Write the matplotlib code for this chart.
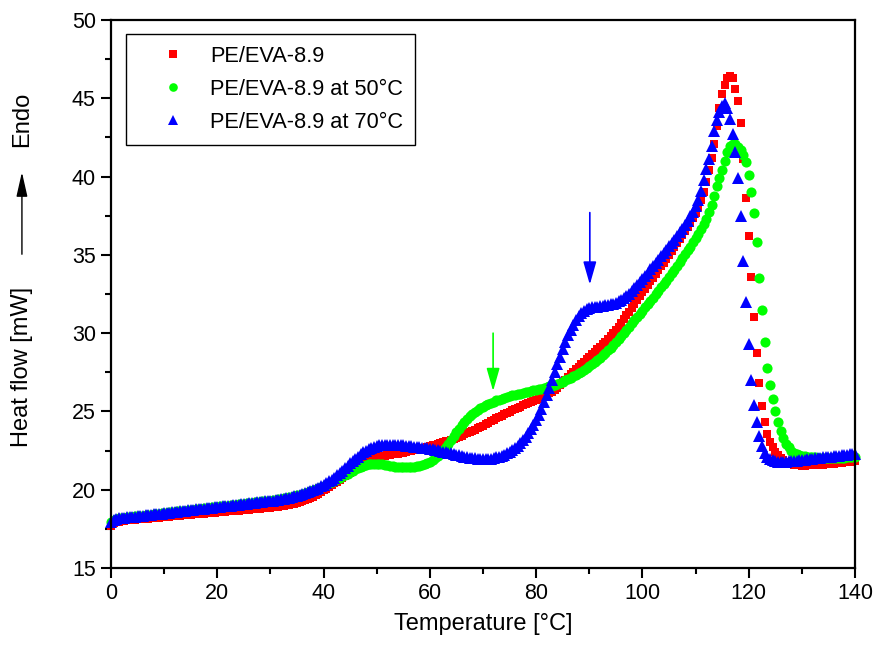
import numpy as np
import matplotlib
matplotlib.use("Agg")
import matplotlib.pyplot as plt

plt.rcParams['font.family'] = ['Liberation Sans', 'DejaVu Sans']

# Temperature grid (0.5 °C sampling)
temperature = np.arange(0, 140.5, 0.5)

pe_eva = [
    17.70, 17.85, 17.92, 17.96, 18.00, 18.02, 18.04, 18.06, 18.08, 18.09,
    18.10, 18.12, 18.13, 18.15, 18.16, 18.18, 18.19, 18.21, 18.22, 18.24,
    18.25, 18.27, 18.28, 18.30, 18.31, 18.33, 18.34, 18.36, 18.37, 18.39,
    18.40, 18.42, 18.43, 18.45, 18.46, 18.48, 18.49, 18.51, 18.52, 18.54,
    18.55, 18.57, 18.58, 18.60, 18.61, 18.63, 18.64, 18.66, 18.67, 18.69,
    18.70, 18.72, 18.73, 18.75, 18.76, 18.78, 18.79, 18.81, 18.82, 18.84,
    18.85, 18.87, 18.90, 18.92, 18.95, 18.97, 19.00, 19.03, 19.06, 19.10,
    19.15, 19.20, 19.26, 19.32, 19.39, 19.47, 19.56, 19.65, 19.75, 19.85,
    19.95, 20.05, 20.16, 20.28, 20.40, 20.52, 20.64, 20.76, 20.88, 20.98,
    21.07, 21.19, 21.32, 21.46, 21.60, 21.72, 21.83, 21.92, 21.98, 22.03,
    22.07, 22.10, 22.13, 22.16, 22.19, 22.22, 22.25, 22.28, 22.30, 22.33,
    22.37, 22.41, 22.45, 22.49, 22.53, 22.57, 22.61, 22.65, 22.69, 22.74,
    22.78, 22.83, 22.88, 22.93, 22.98, 23.03, 23.08, 23.13, 23.18, 23.25,
    23.33, 23.39, 23.46, 23.53, 23.60, 23.68, 23.76, 23.84, 23.93, 24.01,
    24.10, 24.19, 24.28, 24.37, 24.46, 24.55, 24.64, 24.73, 24.82, 24.90,
    24.98, 25.06, 25.14, 25.22, 25.30, 25.38, 25.46, 25.54, 25.61, 25.68,
    25.75, 25.82, 25.90, 25.98, 26.07, 26.16, 26.26, 26.37, 26.48, 26.66,
    26.85, 27.03, 27.22, 27.38, 27.54, 27.70, 27.86, 28.02, 28.18, 28.34,
    28.50, 28.65, 28.80, 28.96, 29.12, 29.29, 29.46, 29.64, 29.82, 30.00,
    30.20, 30.42, 30.65, 30.88, 31.15, 31.38, 31.62, 31.86, 32.10, 32.35,
    32.60, 32.84, 33.08, 33.32, 33.55, 33.79, 34.03, 34.27, 34.50, 34.74,
    34.98, 35.22, 35.50, 35.75, 36.00, 36.25, 36.50, 36.77, 37.05, 37.33,
    37.65, 38.05, 38.50, 39.00, 39.65, 40.40, 41.20, 42.05, 43.20, 44.40,
    45.25, 45.85, 46.30, 46.45, 46.30, 45.60, 44.80, 43.40, 41.10, 38.60,
    36.20, 33.60, 31.00, 28.75, 26.80, 25.35, 24.35, 23.55, 23.05, 22.70,
    22.42, 22.20, 22.02, 21.88, 21.77, 21.69, 21.63, 21.59, 21.56, 21.55,
    21.54, 21.54, 21.55, 21.56, 21.57, 21.58, 21.59, 21.60, 21.61, 21.62,
    21.63, 21.65, 21.67, 21.69, 21.71, 21.73, 21.75, 21.77, 21.79, 21.81,
    21.83,
]

pe_eva_50 = [
    17.95, 18.08, 18.14, 18.17, 18.20, 18.22, 18.24, 18.26, 18.28, 18.29,
    18.31, 18.33, 18.35, 18.37, 18.39, 18.41, 18.43, 18.45, 18.47, 18.49,
    18.51, 18.53, 18.55, 18.57, 18.59, 18.61, 18.63, 18.65, 18.67, 18.69,
    18.71, 18.73, 18.75, 18.77, 18.79, 18.81, 18.83, 18.85, 18.87, 18.89,
    18.91, 18.93, 18.95, 18.97, 18.99, 19.01, 19.03, 19.05, 19.07, 19.09,
    19.11, 19.13, 19.15, 19.17, 19.19, 19.21, 19.23, 19.25, 19.27, 19.29,
    19.31, 19.33, 19.36, 19.39, 19.42, 19.45, 19.48, 19.52, 19.56, 19.60,
    19.64, 19.68, 19.73, 19.78, 19.84, 19.90, 19.96, 20.03, 20.10, 20.17,
    20.24, 20.32, 20.40, 20.49, 20.58, 20.67, 20.76, 20.85, 20.94, 21.03,
    21.12, 21.21, 21.30, 21.39, 21.47, 21.54, 21.59, 21.63, 21.65, 21.66,
    21.66, 21.64, 21.62, 21.59, 21.56, 21.53, 21.50, 21.48, 21.46, 21.45,
    21.44, 21.44, 21.44, 21.45, 21.47, 21.50, 21.54, 21.59, 21.65, 21.72,
    21.80, 21.90, 22.02, 22.16, 22.33, 22.52, 22.73, 22.95, 23.18, 23.42,
    23.66, 23.90, 24.13, 24.34, 24.53, 24.70, 24.85, 24.98, 25.10, 25.21,
    25.31, 25.40, 25.48, 25.56, 25.63, 25.70, 25.76, 25.82, 25.87, 25.92,
    25.97, 26.02, 26.06, 26.10, 26.14, 26.18, 26.22, 26.26, 26.30, 26.34,
    26.38, 26.42, 26.46, 26.50, 26.55, 26.60, 26.65, 26.71, 26.77, 26.84,
    26.91, 26.99, 27.07, 27.15, 27.24, 27.33, 27.43, 27.53, 27.64, 27.76,
    27.88, 28.01, 28.14, 28.28, 28.43, 28.58, 28.74, 28.91, 29.08, 29.26,
    29.44, 29.63, 29.82, 30.02, 30.22, 30.42, 30.62, 30.82, 31.02, 31.22,
    31.43, 31.64, 31.85, 32.06, 32.27, 32.48, 32.70, 32.92, 33.14, 33.36,
    33.60, 33.83, 34.06, 34.30, 34.54, 34.78, 35.03, 35.28, 35.53, 35.80,
    36.10, 36.35, 36.62, 36.95, 37.30, 37.72, 38.20, 38.75, 39.40, 39.90,
    40.45, 41.00, 41.60, 41.95, 42.10, 42.05, 41.90, 41.70, 41.40, 40.90,
    40.10, 39.00, 37.70, 35.80, 33.50, 31.50, 29.45, 27.80, 26.70, 25.80,
    25.00, 24.35, 23.78, 23.30, 22.95, 22.70, 22.50, 22.36, 22.28, 22.22,
    22.18, 22.15, 22.12, 22.10, 22.08, 22.06, 22.05, 22.04, 22.03, 22.02,
    22.02, 22.02, 22.02, 22.03, 22.03, 22.04, 22.05, 22.06, 22.07, 22.08,
    22.10,
]

pe_eva_70 = [
    17.95, 18.08, 18.14, 18.17, 18.19, 18.21, 18.23, 18.25, 18.27, 18.28,
    18.30, 18.32, 18.34, 18.36, 18.38, 18.40, 18.42, 18.44, 18.46, 18.48,
    18.50, 18.52, 18.54, 18.56, 18.58, 18.60, 18.62, 18.64, 18.66, 18.68,
    18.70, 18.72, 18.74, 18.76, 18.78, 18.80, 18.82, 18.84, 18.86, 18.88,
    18.89, 18.91, 18.93, 18.95, 18.97, 18.99, 19.01, 19.03, 19.05, 19.07,
    19.09, 19.11, 19.13, 19.15, 19.17, 19.19, 19.21, 19.23, 19.25, 19.27,
    19.29, 19.31, 19.34, 19.37, 19.40, 19.43, 19.46, 19.50, 19.54, 19.58,
    19.62, 19.67, 19.72, 19.78, 19.84, 19.91, 19.98, 20.06, 20.14, 20.23,
    20.32, 20.42, 20.53, 20.65, 20.78, 20.92, 21.07, 21.22, 21.38, 21.53,
    21.68, 21.83, 21.98, 22.12, 22.26, 22.39, 22.50, 22.60, 22.68, 22.75,
    22.80, 22.83, 22.85, 22.86, 22.87, 22.87, 22.87, 22.86, 22.85, 22.84,
    22.83, 22.81, 22.79, 22.77, 22.75, 22.73, 22.71, 22.69, 22.67, 22.65,
    22.62, 22.59, 22.56, 22.52, 22.48, 22.44, 22.40, 22.36, 22.32, 22.28,
    22.24, 22.20, 22.16, 22.12, 22.08, 22.05, 22.02, 22.00, 21.98, 21.97,
    21.96, 21.96, 21.97, 21.99, 22.02, 22.06, 22.11, 22.17, 22.24, 22.32,
    22.42, 22.53, 22.66, 22.81, 22.98, 23.17, 23.38, 23.61, 23.86, 24.14,
    24.45, 24.80, 25.18, 25.60, 26.05, 26.52, 27.00, 27.50, 28.00, 28.50,
    28.98, 29.43, 29.85, 30.22, 30.55, 30.84, 31.08, 31.27, 31.42, 31.52,
    31.60, 31.65, 31.68, 31.70, 31.72, 31.74, 31.77, 31.80, 31.84, 31.89,
    31.95, 32.03, 32.12, 32.23, 32.36, 32.51, 32.68, 32.86, 33.05, 33.25,
    33.45, 33.65, 33.86, 34.07, 34.28, 34.49, 34.70, 34.91, 35.12, 35.33,
    35.54, 35.76, 35.98, 36.20, 36.43, 36.67, 36.92, 37.18, 37.46, 37.76,
    38.10, 38.50, 39.10, 39.80, 40.50, 41.10, 41.95, 42.90, 43.60, 44.10,
    44.50, 44.70, 44.40, 43.70, 42.70, 41.60, 39.90, 37.50, 34.60, 32.00,
    29.30, 27.00, 25.40, 24.30, 23.45, 22.80, 22.35, 22.10, 21.95, 21.87,
    21.82, 21.80, 21.79, 21.79, 21.80, 21.81, 21.82, 21.84, 21.86, 21.88,
    21.90, 21.92, 21.94, 21.96, 21.98, 22.00, 22.02, 22.04, 22.06, 22.08,
    22.10, 22.12, 22.14, 22.16, 22.18, 22.20, 22.22, 22.24, 22.26, 22.28,
    22.30,
]

series_labels = ["PE/EVA-8.9", "PE/EVA-8.9 at 50\u00b0C", "PE/EVA-8.9 at 70\u00b0C"]
x_ticks = [0, 20, 40, 60, 80, 100, 120, 140]
y_ticks = [15, 20, 25, 30, 35, 40, 45, 50]

fig = plt.figure(figsize=(8.77, 6.54), dpi=100)
ax = fig.add_axes([0.1266, 0.1315, 0.8483, 0.8379])

ax.plot(temperature, pe_eva, linestyle='none', marker='s', color='#ff0000',
        markersize=6.3, markeredgewidth=0, label=series_labels[0], clip_on=False)
ax.plot(temperature, pe_eva_50, linestyle='none', marker='o', color='#00ff00',
        markersize=7.3, markeredgewidth=0, label=series_labels[1], clip_on=False)
ax.plot(temperature, pe_eva_70, linestyle='none', marker='^', color='#0000ff',
        markersize=8, markeredgewidth=0, label=series_labels[2], clip_on=False)

ax.set_xlim(0, 140)
ax.set_ylim(15, 50)
ax.set_xticks(x_ticks)
ax.set_yticks(y_ticks)
ax.set_xticks(np.arange(10, 140, 20), minor=True)
ax.set_yticks(np.arange(17.5, 50, 5), minor=True)
ax.tick_params(axis='both', which='major', direction='out', length=7, width=1.5,
               labelsize=15.5, pad=4)
ax.tick_params(axis='both', which='minor', direction='out', length=4.5, width=1.5)
ax.tick_params(top=False, right=False, which='both')
for s in ax.spines.values():
    s.set_linewidth(1.6)

ax.set_xlabel("Temperature [\u00b0C]", fontsize=17, labelpad=6)

# y label with Endo arrow
fig.text(0.025, 0.4388, "Heat flow [mW]", rotation=90, fontsize=17,
         ha='center', va='center')
fig.text(0.025, 0.818, "Endo", rotation=90, fontsize=17, ha='center', va='center')
fig.add_artist(matplotlib.patches.FancyArrowPatch(
    (0.025, 0.607), (0.025, 0.741), transform=fig.transFigure,
    arrowstyle='-|>,head_length=0.75,head_width=0.17', mutation_scale=20,
    color='black', linewidth=1.0))

# annotation arrows
ax.annotate("", xy=(90.1, 33.1), xytext=(90.1, 37.7),
            arrowprops=dict(arrowstyle='-|>,head_length=0.7,head_width=0.2',
                            mutation_scale=20, color='#0000ff', lw=1.2,
                            shrinkA=0, shrinkB=0))
ax.annotate("", xy=(71.9, 26.3), xytext=(71.9, 30.0),
            arrowprops=dict(arrowstyle='-|>,head_length=0.7,head_width=0.2',
                            mutation_scale=20, color='#00ff00', lw=1.2,
                            shrinkA=0, shrinkB=0))

leg = ax.legend(loc='upper left', bbox_to_anchor=(0.0202, 0.9745),
                borderaxespad=0, fontsize=15.7, frameon=True, fancybox=False,
                edgecolor='black', framealpha=1, handlelength=3.2,
                handletextpad=0.1, labelspacing=0.55, borderpad=0.55,
                numpoints=1, markerscale=0.85)
leg.get_frame().set_linewidth(1.0)

fig.savefig("out.png", dpi=100)
